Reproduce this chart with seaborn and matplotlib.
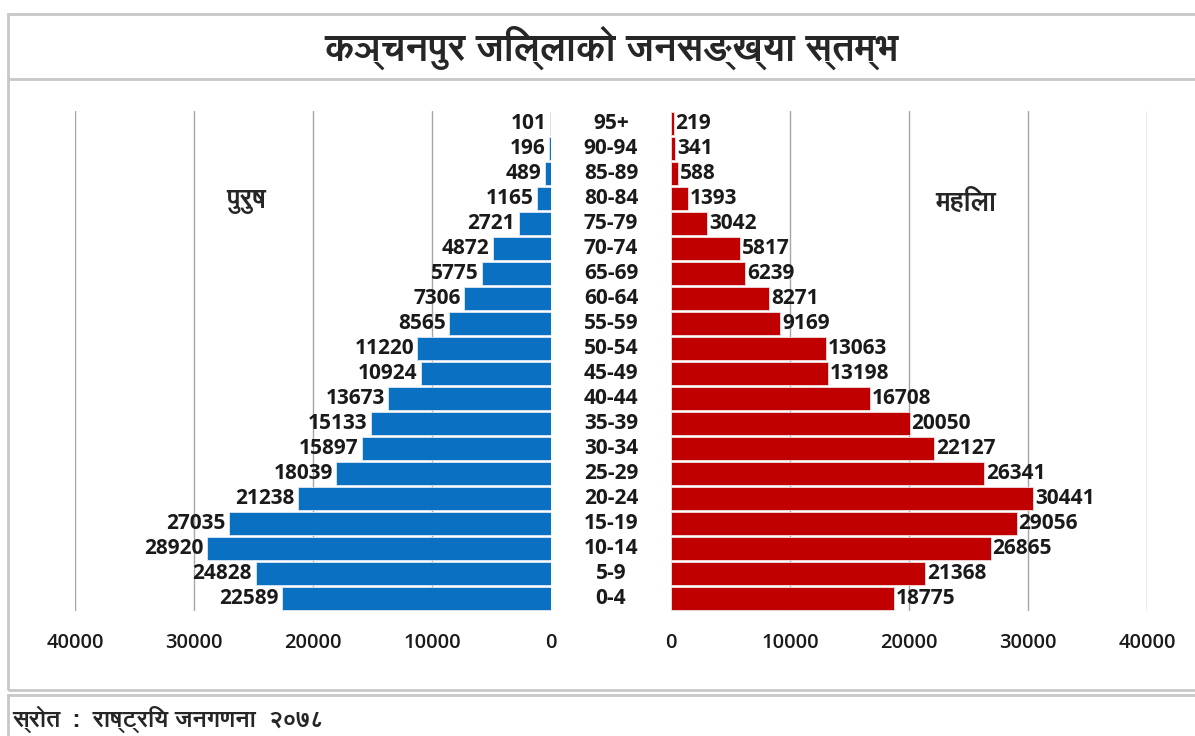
import numpy as np
import pandas as pd
import matplotlib
matplotlib.use("Agg")
import matplotlib.pyplot as plt
import seaborn as sns
from matplotlib import font_manager
from matplotlib.ft2font import FT2Font
from matplotlib.lines import Line2D
from matplotlib.patches import Rectangle

# ---------------- data ----------------
age_groups = ["95+", "90-94", "85-89", "80-84", "75-79", "70-74", "65-69", "60-64",
              "55-59", "50-54", "45-49", "40-44", "35-39", "30-34", "25-29", "20-24",
              "15-19", "10-14", "5-9", "0-4"]
male = [101, 196, 489, 1165, 2721, 4872, 5775, 7306, 8565, 11220, 10924, 13673,
        15133, 15897, 18039, 21238, 27035, 28920, 24828, 22589]
female = [219, 341, 588, 1393, 3042, 5817, 6239, 8271, 9169, 13063, 13198, 16708,
          20050, 22127, 26341, 30441, 29056, 26865, 21368, 18775]
x_ticks = [0, 10000, 20000, 30000, 40000]
title = "कञ्चनपुर जिल्लाको जनसङ्ख्या स्तम्भ"
male_label = "पुरुष"
female_label = "महिला"
source = "स्रोत  :  राष्ट्रिय जनगणना  २०७८"

# ---------------- fonts ----------------
sns.set_theme(style="white")

def find_deva():
    best = None
    for f in font_manager.fontManager.ttflist:
        try:
            cm = FT2Font(f.fname).get_charmap()
        except Exception:
            continue
        if 0x0915 in cm:
            if f.weight in ("bold", 700) or (isinstance(f.weight, int) and f.weight >= 600):
                return f.name
            if best is None:
                best = f.name
    return best

deva = find_deva()
num_font = ["Open Sans", "DejaVu Sans"]
deva_font = ([deva] if deva else []) + ["Open Sans", "DejaVu Sans"]
plt.rcParams["font.family"] = num_font

df = pd.DataFrame({"age": age_groups, "male": male, "female": female})

W, H = 1195, 736
fig = plt.figure(figsize=(W / 100, H / 100), dpi=100)
fig.patch.set_facecolor("white")

def fx(px):
    return px / W

def fy(py):
    return 1 - py / H

ax_top, ax_bot = 111, 611
axL = fig.add_axes([fx(75), fy(ax_bot), fx(551) - fx(75), fy(ax_top) - fy(ax_bot)])
axR = fig.add_axes([fx(671), fy(ax_bot), fx(1147) - fx(671), fy(ax_top) - fy(ax_bot)])

blue = "#0A70C2"
red = "#C00000"

sns.barplot(data=df, x="male", y="age", order=age_groups, color=blue, orient="h",
            width=0.9, ax=axL, saturation=1, edgecolor="#dfe8f2", linewidth=0.6)
sns.barplot(data=df, x="female", y="age", order=age_groups, color=red, orient="h",
            width=0.9, ax=axR, saturation=1, edgecolor="#f2dede", linewidth=0.6)

lab_fs = 15
for ax in (axL, axR):
    ax.set_xlim(0, 40000)
    ax.set_ylim(len(age_groups) - 0.5, -0.5)
    ax.set_xticks(x_ticks)
    ax.set_xticklabels([str(t) for t in x_ticks], fontsize=14.5, fontweight="semibold",
                       color="#1a1a1a")
    ax.tick_params(axis="x", length=0, pad=16)
    ax.set_yticks([])
    ax.set_xlabel("")
    ax.set_ylabel("")
    for s in ax.spines.values():
        s.set_visible(False)
    ax.set_facecolor("none")
    for t in x_ticks[1:]:
        ax.axvline(t, color="#A6A6A6", lw=1.0, zorder=0)
axL.invert_xaxis()

for i, v in enumerate(male):
    axL.text(v + 300, i, str(v), ha="right", va="center", fontsize=lab_fs,
             fontweight="bold", color="#1a1a1a")
for i, v in enumerate(female):
    axR.text(v + 150, i, str(v), ha="left", va="center", fontsize=lab_fs,
             fontweight="bold", color="#1a1a1a")
for i, g in enumerate(age_groups):
    axL.annotate(g, xy=(0, i), xycoords="data", xytext=(60, 0),
                 textcoords="offset pixels", ha="center", va="center",
                 fontsize=lab_fs, fontweight="bold", color="#1a1a1a",
                 annotation_clip=False)

# gender labels
fig.text(fx(246), fy(202), male_label, family=deva_font, fontsize=19,
         fontweight="bold", ha="center", va="center")
fig.text(fx(966), fy(202), female_label, family=deva_font, fontsize=19,
         fontweight="bold", ha="center", va="center")

# frame
grey = "#C8C8C8"
fig.add_artist(Rectangle((fx(8), fy(690)), fx(1250) - fx(8), fy(14) - fy(690),
                         transform=fig.transFigure, fill=False, ec=grey, lw=2))
fig.add_artist(Line2D([fx(8), 1.0], [fy(79), fy(79)], transform=fig.transFigure,
                      color=grey, lw=2))
fig.add_artist(Rectangle((fx(8), fy(760)), fx(1250) - fx(8), fy(695) - fy(760),
                         transform=fig.transFigure, fill=False, ec=grey, lw=2))

fig.text(fx(612), fy(48), title, family=deva_font, fontsize=27, fontweight="bold",
         ha="center", va="center")
fig.text(fx(12), fy(719), source, family=deva_font, fontsize=17, fontweight="bold",
         ha="left", va="center")

fig.savefig("out.png", dpi=100, facecolor="white")
